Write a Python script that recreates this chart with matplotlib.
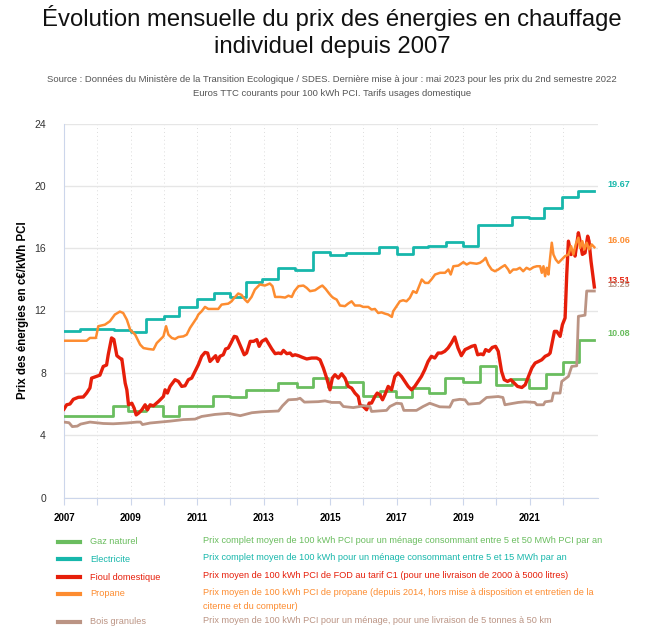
import matplotlib
matplotlib.use("Agg")
import matplotlib.pyplot as plt
from matplotlib.lines import Line2D

# Series colours (Highcharts-like palette of the original)
GREEN = "#6abd5f"
TEAL = "#17b7ab"
RED = "#e61e0a"
ORANGE = "#fd8c30"
BROWN = "#bb9484"

# ---- data (decimal year, c€/kWh PCI) ----
# gaz naturel: regulated tariff, changes by steps
gas_years = [2007.0, 2007.5, 2008.46, 2008.93, 2009.47, 2009.99, 2010.47, 2011.49, 2011.99,
             2012.47, 2013.45, 2014.0, 2014.48, 2014.95, 2015.48, 2015.98, 2016.5, 2016.98,
             2017.46, 2017.99, 2018.46, 2018.99, 2019.51, 2019.99, 2020.46, 2020.99, 2021.5,
             2022.0, 2022.5, 2022.95]
gas_values = [5.2, 5.25, 5.84, 5.56, 5.87, 5.26, 5.84, 6.5, 6.44,
              6.88, 7.34, 7.07, 7.7, 7.07, 7.4, 6.54, 6.82, 6.45,
              7.02, 6.72, 7.68, 7.44, 8.46, 7.23, 7.6, 7.0, 7.94,
              8.67, 10.08, 10.08]

# electricite: steps too
elec_years = [2007.0, 2007.48, 2008.5, 2009.0, 2009.47, 2010.0, 2010.47, 2011.0, 2011.5,
              2012.0, 2012.47, 2012.95, 2013.45, 2013.95, 2014.48, 2015.0, 2015.48, 2016.47,
              2017.0, 2017.49, 2017.95, 2018.48, 2019.0, 2019.46, 2020.46, 2020.99, 2021.45,
              2021.97, 2022.47, 2022.95]
elec_values = [10.71, 10.82, 10.72, 10.63, 11.46, 11.63, 12.2, 12.77, 13.1,
               12.88, 13.84, 14.05, 14.7, 14.63, 15.74, 15.55, 15.66, 16.07,
               15.64, 16.07, 16.13, 16.37, 16.15, 17.47, 18.03, 17.95, 18.6,
               19.3, 19.67, 19.67]

fuel_years = [2007.0, 2007.08, 2007.18, 2007.28, 2007.43, 2007.58, 2007.68, 2007.78, 2007.83,
              2007.98, 2008.08, 2008.18, 2008.28, 2008.33, 2008.43, 2008.5, 2008.59, 2008.69,
              2008.74, 2008.84, 2008.89, 2008.94, 2009.04, 2009.11, 2009.17, 2009.24, 2009.34,
              2009.44, 2009.51, 2009.59, 2009.69, 2009.84, 2009.99, 2010.04, 2010.11, 2010.19,
              2010.34, 2010.44, 2010.54, 2010.64, 2010.74, 2010.84, 2010.94, 2011.04, 2011.14,
              2011.24, 2011.32, 2011.39, 2011.49, 2011.56, 2011.62, 2011.69, 2011.79, 2011.86,
              2011.94, 2012.02, 2012.12, 2012.19, 2012.29, 2012.42, 2012.49, 2012.6, 2012.7,
              2012.8, 2012.87, 2012.95, 2013.07, 2013.17, 2013.25, 2013.35, 2013.45, 2013.53,
              2013.6, 2013.7, 2013.8, 2013.87, 2013.95, 2014.05, 2014.15, 2014.3, 2014.45,
              2014.6, 2014.7, 2014.8, 2014.9, 2015.0, 2015.07, 2015.15, 2015.25, 2015.35,
              2015.45, 2015.55, 2015.65, 2015.75, 2015.85, 2015.9, 2016.0, 2016.1, 2016.18,
              2016.25, 2016.35, 2016.42, 2016.5, 2016.58, 2016.65, 2016.75, 2016.85, 2016.95,
              2017.05, 2017.15, 2017.25, 2017.35, 2017.45, 2017.55, 2017.65, 2017.75, 2017.85,
              2017.95, 2018.05, 2018.15, 2018.25, 2018.35, 2018.45, 2018.55, 2018.65, 2018.75,
              2018.85, 2018.95, 2019.06, 2019.16, 2019.26, 2019.36, 2019.44, 2019.54, 2019.61,
              2019.68, 2019.78, 2019.88, 2019.98, 2020.06, 2020.16, 2020.24, 2020.34, 2020.44,
              2020.54, 2020.64, 2020.77, 2020.87, 2020.97, 2021.07, 2021.17, 2021.27, 2021.37,
              2021.47, 2021.57, 2021.62, 2021.67, 2021.75, 2021.82, 2021.92, 2021.99, 2022.07,
              2022.12, 2022.17, 2022.25, 2022.32, 2022.37, 2022.42, 2022.47, 2022.52, 2022.59,
              2022.67, 2022.75, 2022.79, 2022.85, 2022.95]
fuel_values = [5.67, 5.95, 6.0, 6.3, 6.43, 6.45, 6.7, 7.03, 7.66,
               7.77, 7.85, 8.41, 8.5, 9.16, 10.24, 10.14, 9.1, 8.93,
               8.88, 7.34, 6.91, 5.95, 6.05, 5.73, 5.3, 5.41, 5.62,
               5.95, 5.62, 5.95, 5.88, 6.16, 6.48, 6.91, 6.7, 7.13,
               7.56, 7.45, 7.13, 7.17, 7.56, 7.66, 8.09, 8.52, 9.06,
               9.31, 9.27, 8.73, 8.95, 9.1, 8.73, 9.06, 9.16, 9.53,
               9.59, 9.91, 10.34, 10.3, 9.81, 9.16, 9.27, 10.02, 10.02,
               10.13, 9.7, 10.02, 10.17, 9.81, 9.53, 9.23, 9.27, 9.23,
               9.44, 9.23, 9.27, 9.1, 9.16, 9.1, 9.01, 8.89, 8.95,
               8.95, 8.84, 8.31, 7.66, 6.91, 7.66, 7.88, 7.66, 7.94,
               7.66, 7.13, 7.02, 6.7, 6.48, 5.95, 5.84, 5.63, 6.06,
               6.06, 6.48, 6.7, 6.59, 6.27, 6.59, 7.13, 6.91, 7.77,
               7.99, 7.77, 7.45, 7.13, 6.91, 7.13, 7.45, 7.77, 8.2,
               8.73, 9.06, 8.95, 9.27, 9.27, 9.38, 9.59, 9.91, 10.3,
               9.59, 9.1, 9.49, 9.59, 9.7, 9.76, 9.16, 9.21, 9.16,
               9.49, 9.38, 9.63, 9.7, 9.38, 8.09, 7.56, 7.45, 7.56,
               7.34, 7.13, 7.06, 7.23, 7.77, 8.31, 8.63, 8.73, 8.84,
               9.06, 9.16, 9.27, 9.81, 10.66, 10.66, 10.34, 11.09, 11.52,
               14.31, 16.45, 15.59, 15.81, 15.49, 16.24, 16.99, 16.45, 15.6,
               15.7, 16.77, 16.45, 15.16, 13.51]

propane_years = [2007.0, 2007.68, 2007.78, 2007.96, 2008.03, 2008.23, 2008.38, 2008.53, 2008.68,
                 2008.78, 2008.89, 2008.99, 2009.14, 2009.29, 2009.39, 2009.54, 2009.69, 2009.79,
                 2009.89, 2009.99, 2010.07, 2010.14, 2010.24, 2010.34, 2010.44, 2010.59, 2010.69,
                 2010.79, 2010.89, 2010.99, 2011.04, 2011.14, 2011.24, 2011.34, 2011.64, 2011.74,
                 2011.94, 2012.04, 2012.12, 2012.24, 2012.34, 2012.44, 2012.52, 2012.64, 2012.74,
                 2012.89, 2013.04, 2013.19, 2013.27, 2013.35, 2013.5, 2013.65, 2013.75, 2013.85,
                 2013.93, 2014.05, 2014.2, 2014.3, 2014.4, 2014.55, 2014.7, 2014.77, 2014.87,
                 2014.97, 2015.05, 2015.1, 2015.2, 2015.3, 2015.45, 2015.55, 2015.65, 2015.75,
                 2015.9, 2016.0, 2016.15, 2016.25, 2016.35, 2016.45, 2016.55, 2016.65, 2016.75,
                 2016.86, 2016.9, 2017.0, 2017.1, 2017.2, 2017.3, 2017.4, 2017.5, 2017.6,
                 2017.7, 2017.76, 2017.86, 2017.96, 2018.06, 2018.16, 2018.31, 2018.46, 2018.56,
                 2018.63, 2018.71, 2018.86, 2019.01, 2019.11, 2019.21, 2019.41, 2019.51, 2019.61,
                 2019.68, 2019.76, 2019.86, 2019.96, 2020.06, 2020.16, 2020.26, 2020.36, 2020.41,
                 2020.51, 2020.61, 2020.71, 2020.81, 2020.91, 2021.01, 2021.12, 2021.22, 2021.32,
                 2021.37, 2021.42, 2021.47, 2021.52, 2021.57, 2021.62, 2021.67, 2021.72, 2021.79,
                 2021.87, 2021.97, 2022.07, 2022.17, 2022.25, 2022.32, 2022.39, 2022.47, 2022.52,
                 2022.59, 2022.65, 2022.72, 2022.79, 2022.87, 2022.95]
propane_values = [10.06, 10.06, 10.24, 10.24, 10.99, 11.09, 11.31, 11.74, 11.93,
                  11.84, 11.41, 10.77, 10.45, 9.81, 9.59, 9.53, 9.49, 9.91,
                  10.13, 10.34, 10.99, 10.45, 10.24, 10.17, 10.3, 10.34, 10.45,
                  10.88, 11.2, 11.52, 11.74, 11.95, 12.23, 12.1, 12.1, 12.38,
                  12.44, 12.59, 12.81, 13.09, 13.0, 12.7, 12.53, 12.87, 13.34,
                  13.67, 13.6, 13.73, 13.56, 12.87, 12.87, 12.83, 12.95, 12.87,
                  13.24, 13.56, 13.6, 13.45, 13.24, 13.3, 13.52, 13.6, 13.38,
                  13.1, 12.9, 12.81, 12.7, 12.32, 12.28, 12.45, 12.59, 12.32,
                  12.32, 12.23, 12.23, 12.06, 12.1, 11.84, 11.88, 11.8, 11.74,
                  11.59, 11.95, 12.27, 12.59, 12.66, 12.59, 12.81, 13.24, 13.13,
                  13.67, 13.99, 13.77, 13.77, 14.02, 14.31, 14.42, 14.42, 14.63,
                  14.31, 14.84, 14.88, 15.1, 14.95, 15.06, 15.0, 15.06, 15.21,
                  15.38, 14.95, 14.63, 14.52, 14.63, 14.78, 14.91, 14.63, 14.42,
                  14.63, 14.63, 14.74, 14.52, 14.74, 14.63, 14.78, 14.84, 14.84,
                  14.42, 14.84, 14.2, 14.74, 14.31, 15.38, 16.35, 15.59, 15.27,
                  15.06, 15.27, 15.49, 15.59, 16.13, 15.59, 16.24, 16.67, 16.02,
                  16.45, 15.92, 16.35, 15.92, 16.24, 16.06]

wood_years = [2007.0, 2007.15, 2007.25, 2007.4, 2007.5, 2007.78, 2008.18, 2008.48, 2008.89,
              2009.19, 2009.3, 2009.36, 2009.59, 2010.19, 2010.59, 2010.94, 2011.14, 2011.54,
              2011.94, 2012.3, 2012.65, 2012.95, 2013.45, 2013.57, 2013.75, 2014.0, 2014.1,
              2014.23, 2014.65, 2014.85, 2015.05, 2015.3, 2015.4, 2015.7, 2015.9, 2016.0,
              2016.2, 2016.25, 2016.5, 2016.7, 2016.8, 2017.0, 2017.15, 2017.22, 2017.6,
              2017.8, 2018.0, 2018.3, 2018.6, 2018.7, 2018.9, 2019.06, 2019.16, 2019.5,
              2019.71, 2020.06, 2020.2, 2020.26, 2020.66, 2020.86, 2021.16, 2021.22, 2021.42,
              2021.47, 2021.67, 2021.72, 2021.92, 2021.97, 2022.17, 2022.27, 2022.42, 2022.47,
              2022.67, 2022.72, 2022.95]
wood_values = [4.84, 4.8, 4.55, 4.58, 4.71, 4.84, 4.75, 4.73, 4.78,
               4.84, 4.84, 4.68, 4.78, 4.9, 5.0, 5.03, 5.2, 5.33,
               5.4, 5.25, 5.44, 5.5, 5.55, 5.88, 6.27, 6.3, 6.37,
               6.12, 6.15, 6.2, 6.1, 6.1, 5.84, 5.77, 5.84, 5.9,
               5.84, 5.52, 5.56, 5.59, 5.84, 6.05, 6.02, 5.59, 5.59,
               5.84, 6.05, 5.82, 5.8, 6.23, 6.3, 6.27, 5.99, 6.05,
               6.42, 6.48, 6.42, 5.95, 6.1, 6.14, 6.1, 5.95, 5.95,
               6.14, 6.2, 6.7, 6.7, 7.45, 7.77, 8.41, 8.45, 11.63,
               11.7, 13.25, 13.25]

series_names = ["Gaz naturel", "Electricite", "Fioul domestique", "Propane", "Bois granules"]
series_desc = [
    "Prix complet moyen de 100 kWh PCI pour un ménage consommant entre 5 et 50 MWh PCI par an",
    "Prix complet moyen de 100 kWh pour un ménage consommant entre 5 et 15 MWh par an",
    "Prix moyen de 100 kWh PCI de FOD au tarif C1 (pour une livraison de 2000 à 5000 litres)",
    "Prix moyen de 100 kWh PCI de propane (depuis 2014, hors mise à disposition et entretien de la\nciterne et du compteur)",
    "Prix moyen de 100 kWh PCI pour un ménage, pour une livraison de 5 tonnes à 50 km",
]
series_colors = [GREEN, TEAL, RED, ORANGE, BROWN]
end_labels = ["10.08", "19.67", "13.51", "16.06", "13.25"]

W, H = 664, 636
fig = plt.figure(figsize=(W / 100, H / 100), dpi=100)
plt.rcParams["font.family"] = ["Liberation Sans", "DejaVu Sans"]


def fx(x):
    return x / W


def fy(y):
    return 1 - y / H


ax = fig.add_axes([fx(64), fy(497.5), fx(598) - fx(64), fy(123.5) - fy(497.5)])

series = [
    (gas_years, gas_values, "steps-post", 2.0),
    (elec_years, elec_values, "steps-post", 2.0),
    (fuel_years, fuel_values, "default", 2.4),
    (propane_years, propane_values, "default", 1.8),
    (wood_years, wood_values, "default", 2.0),
]
for i, (xs, ys, ds, lw) in enumerate(series):
    ax.plot(xs, ys, color=series_colors[i], lw=lw, drawstyle=ds,
            solid_joinstyle="round", zorder=3 + i)
    ax.annotate(end_labels[i], xy=(1, ys[-1]), xycoords=("axes fraction", "data"),
                xytext=(7, 5), textcoords="offset points", color=series_colors[i],
                fontsize=6.5, fontweight="bold", va="center", ha="left",
                annotation_clip=False)

ax.set_xlim(2007, 2023.06)
ax.set_ylim(0, 24)
ax.set_yticks(range(0, 25, 4))
ax.set_xticks(range(2007, 2023))
ax.set_xticklabels([str(y) if (y - 2007) % 2 == 0 else "" for y in range(2007, 2023)],
                   fontsize=7, fontweight="bold")
ax.tick_params(axis="x", length=5, width=0.8, color="#ccd6eb", pad=6)
ax.tick_params(axis="y", length=0, labelsize=7.5, labelcolor="#333333", pad=13)
ax.grid(axis="y", color="#e6e6e6", lw=1, zorder=0)
ax.grid(axis="x", color="#dcdcdc", lw=0.7, ls=(0, (1, 3)), zorder=0)
for side in ["top", "right"]:
    ax.spines[side].set_visible(False)
ax.spines["left"].set_color("#ccd6eb")
ax.spines["bottom"].set_color("#ccd6eb")
ax.set_ylabel("Prix des énergies en c€/kWh PCI", fontsize=8.3, fontweight="bold", labelpad=4)

# titles
fig.text(0.5, fy(18), "Évolution mensuelle du prix des énergies en chauffage",
         ha="center", va="center", fontsize=17.2, color="#111111")
fig.text(0.5, fy(47), "individuel depuis 2007", ha="center", va="center", fontsize=17.2,
         color="#111111")
fig.text(0.5, fy(80), "Source : Données du Ministère de la Transition Ecologique / SDES. "
         "Dernière mise à jour : mai 2023 pour les prix du 2nd semestre 2022",
         ha="center", va="center", fontsize=6.8, color="#555555")
fig.text(0.5, fy(94), "Euros TTC courants pour 100 kWh PCI. Tarifs usages domestique",
         ha="center", va="center", fontsize=6.8, color="#555555")

# legend block at the bottom
row_y = [542, 559, 577, 594, 622]
for i, name in enumerate(series_names):
    y = row_y[i]
    fig.add_artist(Line2D([fx(58), fx(80)], [fy(y), fy(y)], color=series_colors[i], lw=3))
    fig.text(fx(90), fy(y), name, color=series_colors[i], fontsize=6.6, va="center", ha="left")
    fig.text(fx(203), fy(y - 6), series_desc[i], color=series_colors[i], fontsize=6.6,
             va="top", ha="left", linespacing=1.75)

fig.savefig("out.png", dpi=100)
